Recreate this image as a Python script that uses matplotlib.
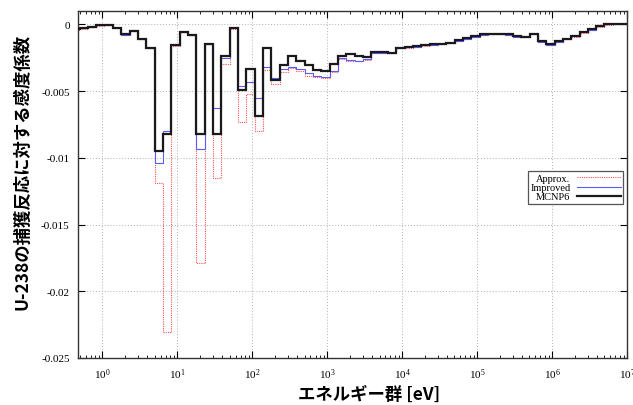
import matplotlib
matplotlib.use("Agg")
import matplotlib.pyplot as plt
from matplotlib.ticker import LogLocator, FixedLocator

# energy group boundaries [eV]
edges = [
    0.388, 0.501, 0.647, 0.836,
    1.080, 1.395, 1.801, 2.326, 3.004, 3.880, 5.012, 6.473, 8.360,
    10.80, 13.95, 18.01, 23.26, 30.04, 38.80, 50.12, 64.73, 83.60,
    108.0, 139.5, 180.1, 232.6, 300.4, 388.0, 501.2, 647.3, 836.0,
    1080, 1395, 1801, 2326, 3004, 3880, 5012, 6473, 8360,
    1.080e4, 1.395e4, 1.801e4, 2.326e4, 3.004e4, 3.880e4, 5.012e4, 6.473e4, 8.360e4,
    1.080e5, 1.395e5, 1.801e5, 2.326e5, 3.004e5, 3.880e5, 5.012e5, 6.473e5, 8.360e5,
    1.080e6, 1.395e6, 1.801e6, 2.326e6, 3.004e6, 3.880e6, 5.012e6, 6.473e6, 8.360e6,
    1.080e7,
]

mcnp6 = [
    -0.00037, -0.00030, -0.00020, -0.00007,
    -0.00002, -0.00026, -0.00075, -0.00049, -0.00108, -0.00179, -0.00946, -0.00821, -0.00153,
    -0.00056, -0.00080, -0.00821, -0.00144, -0.00821, -0.00237, -0.00030, -0.00493, -0.00336,
    -0.00684, -0.00174, -0.00418, -0.00306, -0.00237, -0.00274, -0.00302, -0.00341, -0.00349,
    -0.00299, -0.00237, -0.00224, -0.00235, -0.00243, -0.00207, -0.00207, -0.00211, -0.00174,
    -0.00169, -0.00162, -0.00154, -0.00149, -0.00144, -0.00137, -0.00119, -0.00104, -0.00087,
    -0.00075, -0.00069, -0.00069, -0.00075, -0.00087, -0.00092, -0.00069, -0.00125, -0.00149,
    -0.00125, -0.00107, -0.00087, -0.00057, -0.00037, -0.00013, 0.00000, 0.00004, 0.00004,
]

improved = [
    -0.00038, -0.00031, -0.00021, -0.00008,
    -0.00003, -0.00027, -0.00076, -0.00050, -0.00108, -0.00179, -0.01040, -0.00796, -0.00154,
    -0.00057, -0.00081, -0.00933, -0.00145, -0.00629, -0.00249, -0.00031, -0.00460, -0.00435,
    -0.00555, -0.00321, -0.00403, -0.00332, -0.00317, -0.00336, -0.00366, -0.00386, -0.00398,
    -0.00349, -0.00249, -0.00269, -0.00274, -0.00261, -0.00211, -0.00212, -0.00216, -0.00178,
    -0.00173, -0.00166, -0.00158, -0.00153, -0.00148, -0.00141, -0.00123, -0.00108, -0.00091,
    -0.00079, -0.00073, -0.00073, -0.00079, -0.00091, -0.00096, -0.00073, -0.00129, -0.00153,
    -0.00129, -0.00111, -0.00090, -0.00060, -0.00039, -0.00015, -0.00001, 0.00003, 0.00003,
]

approx = [
    -0.00039, -0.00032, -0.00022, -0.00009,
    -0.00004, -0.00028, -0.00077, -0.00044, -0.00106, -0.00180, -0.01187, -0.02306, -0.00160,
    -0.00058, -0.00082, -0.01786, -0.00146, -0.01152, -0.00299, -0.00032, -0.00734, -0.00522,
    -0.00796, -0.00343, -0.00444, -0.00358, -0.00328, -0.00347, -0.00384, -0.00398, -0.00405,
    -0.00360, -0.00261, -0.00274, -0.00278, -0.00269, -0.00216, -0.00214, -0.00218, -0.00180,
    -0.00175, -0.00168, -0.00160, -0.00155, -0.00150, -0.00143, -0.00125, -0.00110, -0.00093,
    -0.00081, -0.00075, -0.00075, -0.00081, -0.00093, -0.00098, -0.00075, -0.00131, -0.00155,
    -0.00131, -0.00113, -0.00092, -0.00062, -0.00041, -0.00017, -0.00002, 0.00002, 0.00002,
]

xticks = [1e0, 1e1, 1e2, 1e3, 1e4, 1e5, 1e6, 1e7]
xtick_labels = [r'$10^{0}$', r'$10^{1}$', r'$10^{2}$', r'$10^{3}$',
                r'$10^{4}$', r'$10^{5}$', r'$10^{6}$', r'$10^{7}$']
yticks = [0, -0.005, -0.01, -0.015, -0.02, -0.025]
ytick_labels = ["0", "-0.005", "-0.01", "-0.015", "-0.02", "-0.025"]

plt.rcParams['mathtext.fontset'] = 'custom'
plt.rcParams['mathtext.rm'] = 'Liberation Serif'
plt.rcParams['mathtext.it'] = 'Liberation Serif:italic'

SERIF = ['Liberation Serif', 'DejaVu Serif']
JP = ['Noto Sans CJK JP', 'DejaVu Sans']


def main():
    fig = plt.figure(figsize=(6.33, 4.06), dpi=100)
    ax = fig.add_axes([0.1232, 0.1158, 0.8673, 0.8546])

    ax.stairs(approx, edges, color='#ff5050', lw=0.8, ls=(0, (1, 1)), label='Approx.', zorder=2)
    ax.stairs(improved, edges, color='#5a5aff', lw=0.8, label='Improved', zorder=3)
    ax.stairs(mcnp6, edges, color='#1a1a1a', lw=1.6, label='MCNP6', zorder=4)

    ax.set_xscale('log')
    ax.set_xlim(0.475, 1e7)
    ax.set_ylim(-0.025, 0.001)

    ax.xaxis.set_major_locator(FixedLocator(xticks))
    ax.set_xticklabels(xtick_labels)
    ax.xaxis.set_minor_locator(LogLocator(base=10, subs=range(2, 10), numticks=20))
    ax.yaxis.set_major_locator(FixedLocator(yticks))
    ax.set_yticklabels(ytick_labels)

    ax.tick_params(which='both', direction='in', top=True, right=True)
    ax.tick_params(which='major', length=5, width=0.8, labelsize=8, pad=6)
    ax.tick_params(which='minor', length=2.5, width=0.6)
    for lab in ax.get_xticklabels() + ax.get_yticklabels():
        lab.set_family(SERIF)

    ax.grid(True, which='major', color='#b0b0b0', ls=(0, (1, 2)), lw=0.7)
    for s in ax.spines.values():
        s.set_linewidth(1.0)
        s.set_color('#333333')

    leg = ax.legend(loc='upper right', bbox_to_anchor=(0.993, 0.539), borderaxespad=0,
                    markerfirst=False, fancybox=False, framealpha=1, edgecolor='#555555',
                    prop={'family': SERIF, 'size': 7.5}, labelspacing=0.0,
                    handlelength=4.2, handletextpad=0.6, borderpad=0.25)
    leg.get_frame().set_linewidth(0.9)
    for t in leg.get_texts():
        t.set_ha('right')

    fig.text(0.583, 0.027, 'エネルギー群 [eV]', family=JP, weight='bold',
             fontsize=12.5, ha='center', va='center')
    fig.text(0.035, 0.576, 'U-238の捕獲反応に対する感度係数', family=JP, weight='bold',
             fontsize=12.5, ha='center', va='center', rotation=90)

    fig.savefig('out.png', dpi=100)
    plt.close(fig)


if __name__ == '__main__':
    main()
